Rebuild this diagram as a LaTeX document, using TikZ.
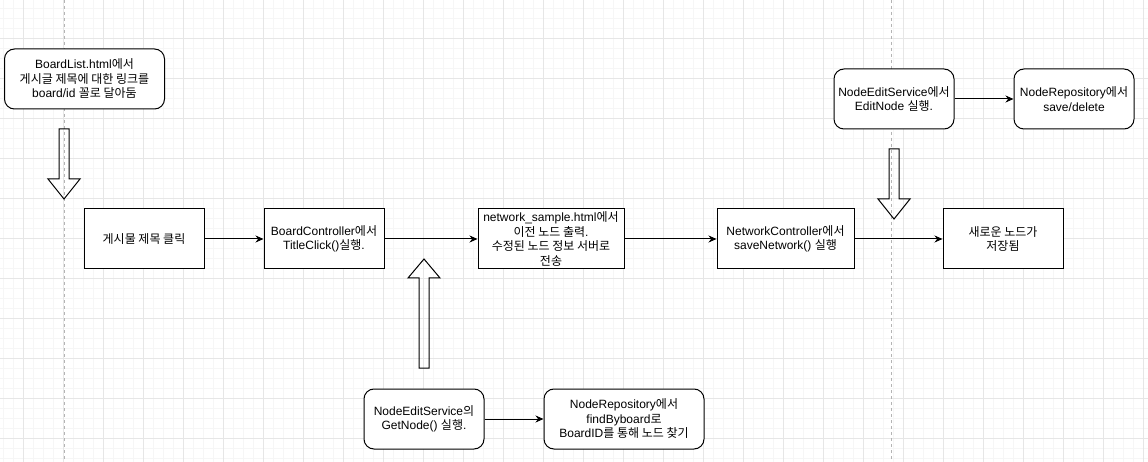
\documentclass[tikz,border=0pt]{standalone}
\usepackage{fontspec}
\setmainfont{Liberation Sans}
\newfontfamily\krf{Noto Sans CJK KR}
\newcommand{\kr}[1]{{\krf #1}}
\usetikzlibrary{arrows.meta}
\definecolor{gridmajor}{HTML}{E6E6E6}
\definecolor{gridminor}{HTML}{F6F6F6}
\definecolor{pagebreak}{HTML}{B4B4B4}
\tikzset{
  box/.style={draw, fill=white, line width=1pt, minimum height=60pt, align=center,
    inner sep=0pt, font=\fontsize{12}{14.5}\selectfont},
  rbox/.style={box, rounded corners=10pt},
  arr/.style={-{Stealth[length=8pt,width=7pt]}, line width=1pt},
  blockarrow/.style={draw, line width=1pt, line join=miter},
  pageline/.style={draw=pagebreak, line width=0.8pt, dash pattern=on 3pt off 3pt}
}
\begin{document}
\begin{tikzpicture}[x=1pt, y=-1pt]
\useasboundingbox (0,0) rectangle (1148,462);
\fill[white] (0,0) rectangle (1148,462);
% grid
\foreach \x in {3.5,13.5,...,1148} \draw[gridminor, line width=0.7pt] (\x,0) -- (\x,462);
\foreach \y in {8.5,18.5,...,462} \draw[gridminor, line width=0.7pt] (0,\y) -- (1148,\y);
\foreach \x in {23.5,63.5,...,1148} \draw[gridmajor, line width=0.8pt] (\x,0) -- (\x,462);
\foreach \y in {38.5,78.5,...,462} \draw[gridmajor, line width=0.8pt] (0,\y) -- (1148,\y);
% page break lines
\draw[pageline] (64,0) -- (64,462);
\draw[pageline] (891.5,0) -- (891.5,462);

% block arrows
\draw[blockarrow] (59,129) -- (69,129) -- (69,179) -- (80,179) -- (64,199) -- (48,179) -- (59,179) -- cycle;
\draw[blockarrow] (889,149) -- (899,149) -- (899,199) -- (910,199) -- (894,219) -- (878,199) -- (889,199) -- cycle;
\draw[blockarrow] (419,368) -- (429,368) -- (429,278) -- (440,278) -- (424,259) -- (408,278) -- (419,278) -- cycle;

% nodes
\node[rbox, minimum width=160pt] (boardlist) at (84.5,79) {BoardList.html\kr{에서}\\\kr{게시글 제목에 대한 링크를}\\board/id \kr{꼴로 달아둠}};
\node[box, minimum width=120pt] (click) at (144,239) {\kr{게시물 제목 클릭}};
\node[box, minimum width=120pt] (bctrl) at (324,239) {BoardController\kr{에서}\\TitleClick()\kr{실행}.};
\node[box, minimum width=146pt] (netsample) at (551,239) {network\_sample.html\kr{에서}\\\kr{이전 노드 출력}.\\\kr{수정된 노드 정보 서버로}\\\kr{전송}};
\node[box, minimum width=137pt] (nctrl) at (785.5,239) {NetworkController\kr{에서}\\saveNetwork() \kr{실행}};
\node[box, minimum width=120pt] (saved) at (1003,239) {\kr{새로운 노드가}\\\kr{저장됨}};
\node[rbox, minimum width=120pt] (editsvc) at (894,99) {NodeEditService\kr{에서}\\EditNode \kr{실행}.};
\node[rbox, minimum width=120pt] (reposave) at (1074,99) {NodeRepository\kr{에서}\\save/delete};
\node[rbox, minimum width=120pt] (getnode) at (424,419) {NodeEditService\kr{의}\\GetNode() \kr{실행}.};
\node[rbox, minimum width=160pt] (repofind) at (624,419) {NodeRepository\kr{에서}\\findByboard\kr{로}\\BoardID\kr{를 통해 노드 찾기}};

% connectors
\draw[arr] (click) -- (bctrl);
\draw[arr] (bctrl) -- (netsample);
\draw[arr] (netsample) -- (nctrl);
\draw[arr] (nctrl) -- (saved);
\draw[arr] (editsvc) -- (reposave);
\draw[arr] (getnode) -- (repofind);
\end{tikzpicture}
\end{document}
